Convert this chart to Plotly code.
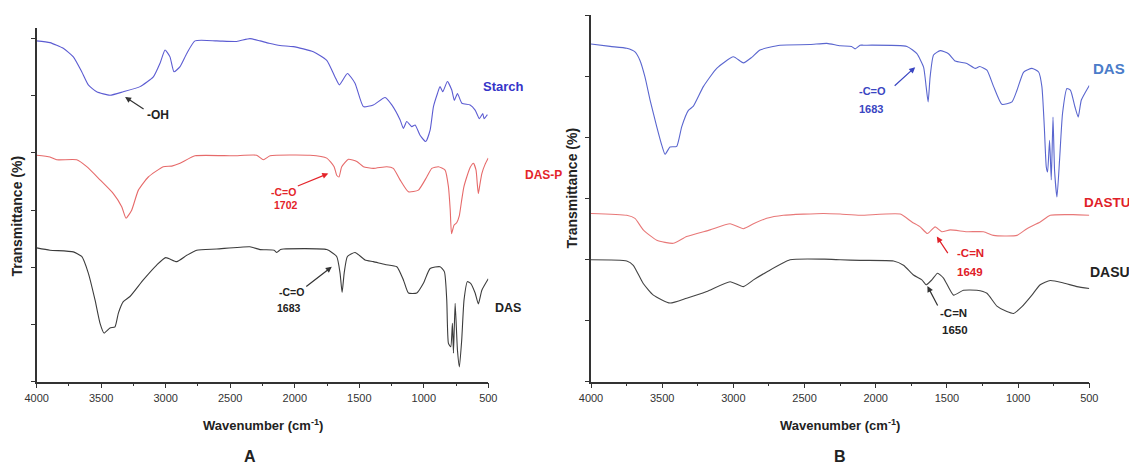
import plotly.graph_objects as go

W, H = 1137, 465
OFF = 8  # page body margin of the browser, compensated in layout positions

# ---------------- Panel A data (wavenumber cm-1, transmittance in tick units) ----------------
starch_wn = [4000, 3897, 3794, 3716, 3651, 3600, 3535, 3432, 3329, 3199, 3096, 3044, 3005, 2967,
             2936, 2889, 2837, 2773, 2605, 2450, 2347, 2269, 2200, 2114, 2011, 1856, 1752, 1688,
             1654, 1592, 1533, 1468, 1391, 1300, 1248, 1184, 1158, 1132, 1093, 1067, 1029, 985,
             951, 925, 894, 874, 853, 817, 783, 763, 739, 705, 641, 602, 569, 543, 533, 507]
starch_t = [5.96, 5.93, 5.83, 5.68, 5.42, 5.19, 5.07, 5.01, 5.07, 5.16, 5.33, 5.57, 5.80, 5.68,
            5.42, 5.51, 5.74, 5.96, 5.96, 5.95, 6.00, 5.96, 5.92, 5.88, 5.86, 5.77, 5.62, 5.33,
            5.19, 5.39, 5.22, 4.81, 4.84, 4.97, 4.84, 4.58, 4.43, 4.55, 4.46, 4.49, 4.31, 4.20,
            4.40, 4.81, 5.04, 5.16, 5.07, 5.25, 5.10, 4.92, 5.04, 4.87, 4.84, 4.75, 4.60, 4.69, 4.60, 4.67]

dasp_wn = [4000, 3897, 3845, 3690, 3612, 3509, 3406, 3341, 3308, 3264, 3212, 3135, 3019, 2953,
           2889, 2773, 2476, 2295, 2243, 2191, 1881, 1752, 1695, 1675, 1657, 1636, 1584, 1519,
           1468, 1391, 1287, 1236, 1184, 1119, 1042, 977, 938, 887, 835, 809, 795, 785, 765, 745,
           725, 706, 690, 667, 640, 615, 595, 585, 577, 565, 550, 525, 500]
dasp_t = [3.96, 3.93, 3.88, 3.88, 3.76, 3.53, 3.29, 3.06, 2.86, 3.00, 3.35, 3.58, 3.76, 3.77,
          3.82, 3.95, 3.95, 3.96, 3.88, 3.95, 3.96, 3.91, 3.76, 3.61, 3.58, 3.76, 3.89, 3.85,
          3.76, 3.73, 3.76, 3.73, 3.53, 3.32, 3.35, 3.58, 3.73, 3.76, 3.70, 3.41, 3.00, 2.59, 2.74, 2.78,
          2.90, 3.18, 3.40, 3.58, 3.75, 3.82, 3.70, 3.45, 3.29, 3.45, 3.64, 3.80, 3.91]

dasA_wn = [4000, 3897, 3716, 3651, 3600, 3548, 3509, 3478, 3432, 3393, 3367, 3329, 3277, 3174,
           3070, 3000, 2915, 2837, 2760, 2605, 2347, 2269, 2160, 2140, 2110, 2088, 1752, 1675,
           1649, 1633, 1617, 1592, 1533, 1455, 1391, 1300, 1209, 1158, 1119, 1054, 1003, 951,
           874, 840, 822, 809, 791, 778, 770, 757, 739, 724, 706, 688, 662, 637, 602, 577, 550, 500]
dasA_t = [2.34, 2.30, 2.27, 2.19, 1.90, 1.43, 1.02, 0.85, 0.94, 0.96, 1.20, 1.40, 1.49, 1.78,
          2.04, 2.17, 2.10, 2.21, 2.30, 2.32, 2.36, 2.31, 2.30, 2.26, 2.31, 2.32, 2.31, 2.19,
          1.90, 1.56, 1.90, 2.19, 2.26, 2.13, 2.10, 2.05, 2.01, 1.78, 1.55, 1.55, 1.72, 1.98,
          2.01, 1.92, 1.43, 0.67, 0.61, 1.02, 0.50, 1.37, 0.55, 0.26, 0.73, 1.43, 1.75, 1.72, 1.55, 1.36, 1.60, 1.80]

# ---------------- Panel B data ----------------
dasB_wn = [4000, 3866, 3749, 3691, 3656, 3621, 3585, 3538, 3503, 3480, 3445, 3398, 3363, 3316,
           3281, 3211, 3117, 3000, 2930, 2871, 2813, 2672, 2461, 2344, 2250, 2170, 2145, 2110,
           2086, 1781, 1711, 1664, 1646, 1632, 1618, 1594, 1547, 1489, 1442, 1360, 1301, 1270,
           1219, 1172, 1114, 1043, 1008, 961, 903, 856, 833, 816, 802, 793, 779, 767, 755, 744,
           727, 709, 688, 657, 632, 601, 578, 556, 500]
dasB_t = [5.54, 5.50, 5.47, 5.41, 5.27, 5.00, 4.62, 4.18, 3.88, 3.73, 3.85, 3.86, 4.18, 4.45,
          4.52, 4.84, 5.14, 5.33, 5.23, 5.32, 5.44, 5.52, 5.53, 5.55, 5.51, 5.50, 5.46, 5.52,
          5.52, 5.50, 5.38, 5.16, 4.84, 4.59, 5.00, 5.36, 5.43, 5.38, 5.26, 5.22, 5.14, 5.17,
          5.11, 4.84, 4.55, 4.59, 4.78, 5.08, 5.14, 5.08, 4.84, 4.18, 3.52, 3.44, 3.96, 3.31, 4.34, 3.47,
          3.03, 3.63, 4.40, 4.81, 4.78, 4.51, 4.34, 4.62, 4.86]

dastu_wn = [4000, 3749, 3691, 3633, 3538, 3422, 3328, 3164, 3023, 2930, 2859, 2766, 2649, 2368,
            2250, 2110, 1828, 1746, 1688, 1637, 1583, 1536, 1477, 1360, 1243, 1173, 1079, 1008,
            938, 845, 774, 613, 500]
dastu_t = [2.76, 2.73, 2.68, 2.49, 2.32, 2.27, 2.38, 2.49, 2.59, 2.51, 2.59, 2.68, 2.73, 2.76,
           2.75, 2.73, 2.75, 2.62, 2.54, 2.43, 2.54, 2.46, 2.49, 2.46, 2.46, 2.40, 2.39, 2.40,
           2.51, 2.62, 2.73, 2.74, 2.73]

dasu_wn = [4000, 3749, 3703, 3633, 3562, 3445, 3328, 3187, 3023, 2930, 2859, 2766, 2602, 2360,
           2250, 2110, 1875, 1805, 1735, 1676, 1646, 1606, 1566, 1524, 1454, 1384, 1290, 1219,
           1149, 1079, 1032, 973, 903, 845, 774, 681, 587, 500]
dasu_t = [2.00, 1.98, 1.91, 1.61, 1.42, 1.29, 1.37, 1.48, 1.64, 1.56, 1.67, 1.80, 2.00, 2.01,
          2.00, 1.99, 1.98, 1.91, 1.75, 1.67, 1.59, 1.67, 1.78, 1.70, 1.42, 1.50, 1.50, 1.45,
          1.24, 1.15, 1.12, 1.23, 1.42, 1.59, 1.66, 1.62, 1.56, 1.53]

x_ticks = [4000, 3500, 3000, 2500, 2000, 1500, 1000, 500]
x_tick_labels = ["4000", "3500", "3000", "2500", "2000", "1500", "1000", "500"]

# ---------------- figure ----------------
def px(x):
    return (x - OFF) / W

def py(y):
    return 1 - (y - OFF) / H

fig = go.Figure()

def add_line(wn, t, color, xa, ya):
    fig.add_trace(go.Scatter(x=wn, y=t, mode="lines",
                             line=dict(color=color, width=1.1, shape="spline", smoothing=0.5),
                             xaxis=xa, yaxis=ya, showlegend=False, hoverinfo="skip"))

add_line(starch_wn, starch_t, "#5c5cd2", "x", "y")
add_line(dasp_wn, dasp_t, "#e66a6a", "x", "y")
add_line(dasA_wn, dasA_t, "#3c3c3c", "x", "y")
add_line(dasB_wn, dasB_t, "#5a66cf", "x2", "y2")
add_line(dastu_wn, dastu_t, "#e87878", "x2", "y2")
add_line(dasu_wn, dasu_t, "#444444", "x2", "y2")

tickfont = dict(family="Liberation Sans, Arial", size=11, color="#333333")

def xaxis_cfg(dom, anchor):
    return dict(domain=dom, anchor=anchor, range=[4000, 500], tickmode="array",
                tickvals=x_ticks, ticktext=x_tick_labels, ticks="outside", ticklen=5,
                tickwidth=1, tickcolor="#333", showline=True, linecolor="#333", linewidth=1.5,
                showgrid=False, zeroline=False, tickfont=tickfont, automargin=False,
                minor=dict(ticks="outside", ticklen=3, tickcolor="#333", dtick=250, tick0=0, showgrid=False))

def yaxis_cfg(dom, anchor, top):
    return dict(domain=dom, anchor=anchor, range=[0, top], tick0=0, dtick=1,
                ticks="outside", ticklen=4, tickcolor="#333", showticklabels=False, automargin=False,
                showline=True, linecolor="#333", linewidth=1.5, showgrid=False, zeroline=False)

fig.update_layout(
    width=W, height=H, margin=dict(l=0, r=0, t=0, b=0, pad=0), autosize=False,
    paper_bgcolor="white", plot_bgcolor="white",
    xaxis=xaxis_cfg([px(36.7), px(488.3)], "y"),
    yaxis=yaxis_cfg([py(381.7), py(28.3)], "x", 6.18),
    xaxis2=xaxis_cfg([px(591), px(1089.3)], "y2"),
    yaxis2=yaxis_cfg([py(381.7), py(14.7)], "x2", 6.02),
)

ann = []

def text(x, y, s, size, color, bold=True, angle=0):
    ann.append(dict(x=px(x), y=py(y), xref="paper", yref="paper", text=(f"<b>{s}</b>" if bold else s),
                    showarrow=False, textangle=angle, xanchor="center", yanchor="middle",
                    font=dict(family="Liberation Sans, Arial", size=size, color=color)))

def arrow(xh, yh, ax, ay, xref, yref, color):
    ann.append(dict(x=xh, y=yh, xref=xref, yref=yref, ax=ax, ay=ay, axref="pixel", ayref="pixel",
                    text="", showarrow=True, arrowhead=2, arrowsize=1, arrowwidth=1.2, arrowcolor=color))

# Axis titles
text(262.5, 425, "Wavenumber (cm<sup>-1</sup>)", 13, "#222")
text(840, 425, "Wavenumber (cm<sup>-1</sup>)", 13, "#222")
text(16.5, 216, "Transmittance (%)", 14, "#222", angle=-90)
text(571.5, 188, "Transmittance (%)", 14, "#222", angle=-90)
text(250, 456, "A", 16, "#222")
text(840, 456, "B", 16, "#222")

# Panel A labels
text(503, 86.7, "Starch", 13, "#3434c8")
text(543, 175, "DAS-P", 12, "#e4242a")
text(508, 308.3, "DAS", 12.5, "#222")
text(158.3, 115, "-OH", 12, "#222")
text(283.3, 191.7, "-C=O", 10.5, "#e4242a")
text(285.7, 205, "1702", 10.5, "#e4242a")
text(291.7, 291.7, "-C=O", 10.5, "#222")
text(289, 308.3, "1683", 10.5, "#222")
arrow(3315, 4.98, 20, 13, "x", "y", "#333")
arrow(1740, 3.64, -32, 13, "x", "y", "#e4242a")
arrow(1713, 2.01, -27, 21, "x", "y", "#333")

# Panel B labels
text(1109, 68.3, "DAS", 15, "#4a7cc9")
text(1107, 202.7, "DASTU", 13.5, "#e02028")
text(1110, 271.7, "DASU", 14, "#222")
text(872.3, 91, "-C=O", 11, "#3a46c2")
text(871, 109.3, "1683", 11, "#3a46c2")
text(970.7, 253.3, "-C=N", 11.5, "#e02028")
text(970.3, 271.7, "1649", 11.5, "#e02028")
text(953.3, 312.7, "-C=N", 11.5, "#222")
text(955, 330, "1650", 11.5, "#222")
arrow(1723, 5.16, -22, 20, "x2", "y2", "#3a46c2")
arrow(1571, 2.38, 12, 18, "x2", "y2", "#e02028")
arrow(1637, 1.57, 11, 21, "x2", "y2", "#333")

fig.update_layout(annotations=ann)
fig.write_html("out.html")
